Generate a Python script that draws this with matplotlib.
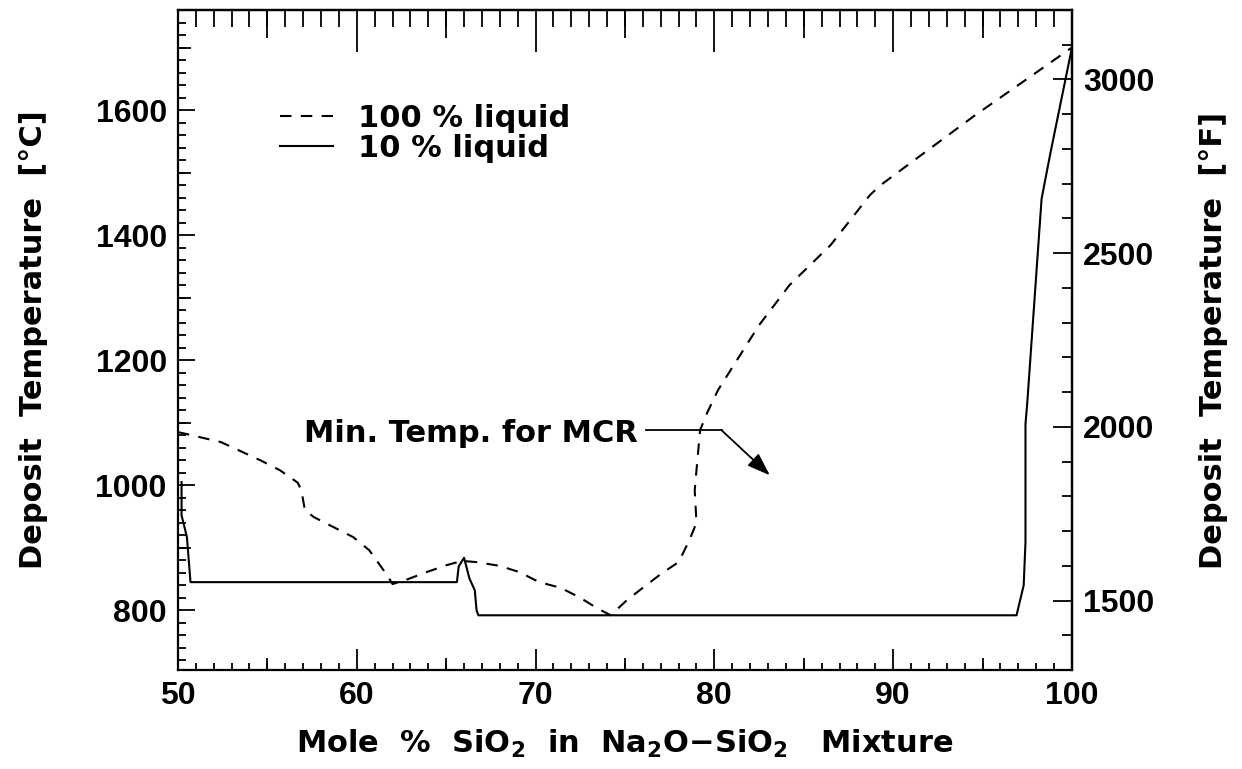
import numpy as np
import matplotlib.pyplot as plt
from matplotlib.ticker import MultipleLocator, NullFormatter

plt.rcParams['font.family'] = ['DejaVu Sans']
plt.rcParams['font.weight'] = 'bold'
plt.rcParams['mathtext.fontset'] = 'custom'
plt.rcParams['mathtext.rm'] = 'DejaVu Sans:bold'
plt.rcParams['mathtext.bf'] = 'DejaVu Sans:bold'
plt.rcParams['mathtext.default'] = 'bf'

# 100 % liquid (liquidus), mole % SiO2 vs deg C
liq100_x = [50.0, 50.3, 52.4, 54.6, 55.7, 56.7, 56.9, 57.1, 57.6, 59.8, 60.7, 61.7,
            62.0, 62.6, 63.9, 65.0, 65.9, 66.7, 68.0, 69.1, 70.2, 71.4, 72.5, 73.4,
            74.2, 75.1, 76.0, 77.1, 78.0, 78.6, 79.0, 78.9, 79.1, 79.2, 79.6, 80.2,
            82.5, 84.2, 86.5, 88.7, 89.3, 94.5, 100.0]
liq100_t = [1085, 1083, 1069, 1040, 1024, 1004, 992, 960, 949, 917, 896, 856,
            842, 847, 861, 872, 879, 877, 871, 861, 845, 836, 820, 804,
            792, 816, 836, 860, 877, 912, 940, 992, 1056, 1088, 1116, 1152,
            1256, 1320, 1384, 1464, 1480, 1590, 1700]

# 10 % liquid
liq10_x = [50.2, 50.2, 50.5, 50.7, 65.6, 65.7, 66.0, 66.3, 66.6, 66.7, 66.8,
           96.9, 97.3, 97.4, 97.4, 97.5, 98.3, 98.8, 100.0]
liq10_t = [1005, 952, 917, 845, 845, 870, 884, 851, 832, 800, 792,
           792, 840, 909, 1098, 1132, 1458, 1532, 1700]

mcr_temp = 1088
c_ticks = [800, 1000, 1200, 1400, 1600]
f_ticks = [1500, 2000, 2500, 3000]
x_ticks = [50, 60, 70, 80, 90, 100]

TICK_FONT = dict(family='Liberation Sans', weight='bold', size=23)


def c2f(c):
    return np.asarray(c) * 1.8 + 32


def f2c(f):
    return (np.asarray(f) - 32) / 1.8


fig = plt.figure(figsize=(12.42, 7.69), dpi=100)
ax = fig.add_axes([0.1433, 0.1287, 0.7198, 0.8583])

ax.plot(liq100_x, liq100_t, color='black', lw=1.5, dashes=(5.5, 4.5),
        label='100 % liquid')
ax.plot(liq10_x, liq10_t, color='black', lw=1.5, label='10 % liquid')

ax.set_xlim(50, 100)
ax.set_ylim(f2c(1300), f2c(3200))

for s in ax.spines.values():
    s.set_linewidth(1.6)

# bottom / left ticks
ax.set_xticks(x_ticks)
ax.xaxis.set_minor_locator(MultipleLocator(1))
ax.set_yticks(c_ticks)
ax.yaxis.set_minor_locator(MultipleLocator(20))
ax.tick_params(which='both', direction='in', width=1.3, top=False, right=False)
ax.tick_params(axis='x', which='major', length=15, pad=8)
ax.tick_params(axis='x', which='minor', length=5)
ax.tick_params(axis='y', which='major', length=12, pad=8)
ax.tick_params(axis='y', which='minor', length=6)
for lab in ax.get_xticklabels() + ax.get_yticklabels():
    lab.set(**TICK_FONT)

# medium ticks on bottom and left
bx = ax.secondary_xaxis('bottom')
bx.set_xticks(np.arange(55, 100, 10))
bx.xaxis.set_major_formatter(NullFormatter())
bx.tick_params(direction='in', length=9, width=1.3)
bx.spines['bottom'].set_visible(False)
ly = ax.secondary_yaxis('left')
ly.set_yticks(np.arange(900, 1800, 200))
ly.yaxis.set_major_formatter(NullFormatter())
ly.tick_params(direction='in', length=9, width=1.3)
ly.spines['left'].set_visible(False)

# top ticks
tx = ax.secondary_xaxis('top')
tx.set_xticks(x_ticks)
tx.xaxis.set_minor_locator(MultipleLocator(1))
tx.xaxis.set_major_formatter(NullFormatter())
tx.tick_params(which='major', direction='in', length=30, width=1.3)
tx.tick_params(which='minor', direction='in', length=12, width=1.3)
tx.spines['top'].set_linewidth(1.6)
tx2 = ax.secondary_xaxis('top')
tx2.set_xticks(np.arange(55, 100, 10))
tx2.xaxis.set_major_formatter(NullFormatter())
tx2.tick_params(direction='in', length=20, width=1.3)
tx2.spines['top'].set_visible(False)

# right axis in deg F
ry = ax.secondary_yaxis('right', functions=(c2f, f2c))
ry.set_yticks(f_ticks)
ry.yaxis.set_minor_locator(MultipleLocator(100))
ry.tick_params(which='major', direction='in', length=14, width=1.3, pad=8)
ry.tick_params(which='minor', direction='in', length=7, width=1.3)
ry.spines['right'].set_linewidth(1.6)
for lab in ry.get_yticklabels():
    lab.set(**TICK_FONT)

ax.set_xlabel(r'Mole  %  SiO$_2$  in  Na$_2$O$-$SiO$_2$   Mixture',
              fontsize=22, fontweight='bold', labelpad=12)
ax.set_ylabel('Deposit  Temperature  [°C]', fontsize=22, fontweight='bold',
              labelpad=34)
ry.set_ylabel('Deposit  Temperature  [°F]', fontsize=22, fontweight='bold',
              labelpad=32)

leg = ax.legend(loc='upper left', bbox_to_anchor=(0.083, 0.9), frameon=False,
                fontsize=22, handlelength=1.75, handletextpad=0.8,
                labelspacing=0.05)
for t in leg.get_texts():
    t.set_fontweight('bold')

# minimum temperature for MCR annotation
ax.text(75.7, 1082, 'Min. Temp. for MCR', fontsize=22, fontweight='bold',
        ha='right', va='center')
ax.plot([76.2, 80.4], [mcr_temp, mcr_temp], color='black', lw=1.3)
ax.annotate('', xy=(83.1, 1016), xytext=(80.4, mcr_temp),
            arrowprops=dict(arrowstyle='-|>,head_length=1.4,head_width=0.5',
                            color='black', lw=1.3, shrinkA=0, shrinkB=0))

fig.savefig('out.png', dpi=100)
